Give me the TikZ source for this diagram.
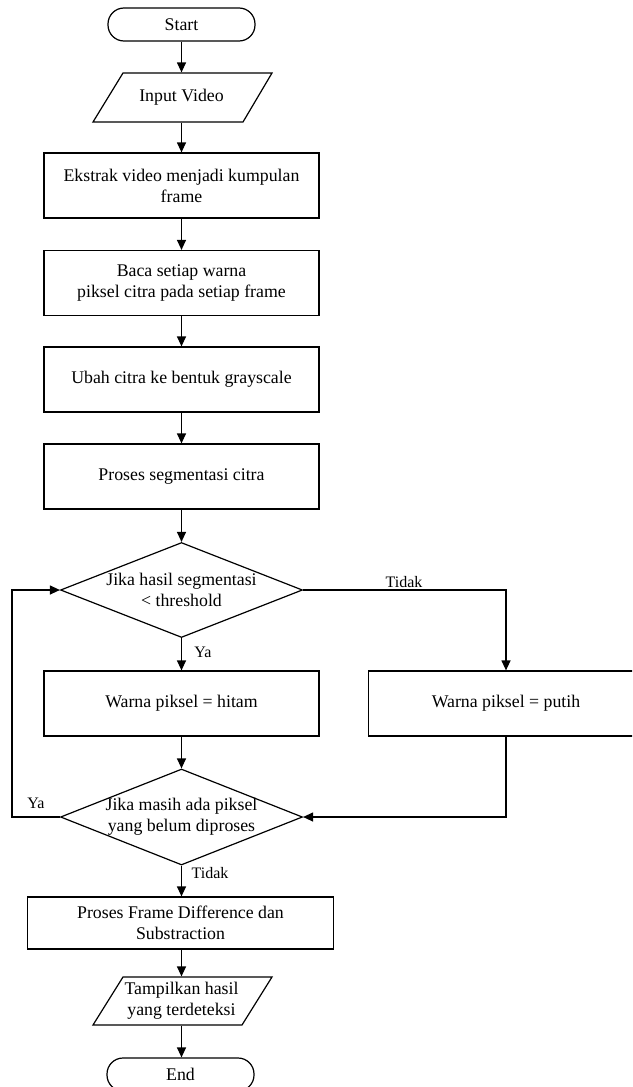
\documentclass[tikz,border=0pt]{standalone}
\usepackage{fontspec}
\setmainfont{Liberation Serif}
\usetikzlibrary{arrows.meta,shapes.geometric}
\begin{document}
\begin{tikzpicture}[x=1pt,y=-1pt,
  line width=1.2pt,
  base/.style={font=\fontsize{17.8}{21}\selectfont, align=center, inner sep=0pt},
  proc/.style={base, draw, rectangle, minimum width=275pt, minimum height=65pt},
  term/.style={base, draw, rectangle, rounded corners=16pt, minimum width=147pt, minimum height=33pt},
  io/.style={base, rectangle, minimum width=150pt, minimum height=49pt},
  dec/.style={draw, diamond, minimum width=242pt, minimum height=95pt, inner sep=0pt},
  lbl/.style={font=\fontsize{16}{19}\selectfont, inner sep=0pt},
  arr/.style={-{Triangle[length=10pt,width=9pt]}},
]
\useasboundingbox (0,0) rectangle (632,1087);
\clip (0,0) rectangle (632,1087);

\node[term] (start) at (181.5,24.5) {Start};
\node[io] (in) at (181.5,97.5) {Input Video};
\draw (123,73) -- (272,73) -- (243,122) -- (93,122) -- cycle;
\node[proc] (ek) at (181.5,185.5) {Ekstrak video menjadi kumpulan\\frame};
\node[proc] (baca) at (181.5,283) {Baca setiap warna\\piksel citra pada setiap frame};
\node[proc] (ubah) at (181.5,379.5) {Ubah citra ke bentuk grayscale};
\node[proc] (seg) at (181.5,476.5) {Proses segmentasi citra};
\node[dec] (d1) at (181.5,590) {};
\node[base] (d1t) at (181.5,590) {Jika hasil segmentasi\\{<} threshold};
\node[proc] (hitam) at (181.5,703.5) {Warna piksel = hitam};
\node[proc] (putih) at (506,703.5) {Warna piksel = putih};
\node[dec, minimum height=96pt] (d2) at (181.5,817) {};
\node[base] (d2t) at (181.5,817) {Jika masih ada piksel\\yang belum diproses};
\node[proc, minimum width=306pt, minimum height=52pt] (frame) at (180.5,923) {Proses Frame Difference dan\\Substraction};
\node[io, minimum height=48pt] (out) at (181.5,1001) {Tampilkan hasil\\yang terdeteksi};
\draw (123,977) -- (272,977) -- (242,1025) -- (93,1025) -- cycle;
\node[term] (end) at (180.5,1074.5) {End};

\node[lbl] (t1) at (404,582) {Tidak};
\node[lbl] (y1) at (203,652) {Ya};
\node[lbl] (y2) at (36,803) {Ya};
\node[lbl] (t2) at (210,873) {Tidak};

\draw[arr] (start.south) -- (start.south |- in.north);
\draw[arr] (in.south) -- (in.south |- ek.north);
\draw[arr] (ek.south) -- (ek.south |- baca.north);
\draw[arr] (baca.south) -- (baca.south |- ubah.north);
\draw[arr] (ubah.south) -- (ubah.south |- seg.north);
\draw[arr] (seg.south) -- (seg.south |- d1.north);
\draw[arr] (d1.south) -- (d1.south |- hitam.north);
\draw[arr] (d1.east) -- (d1.east -| putih.north) -- (putih.north);
\draw[arr] (hitam.south) -- (hitam.south |- d2.north);
\draw[arr] (putih.south) -- (putih.south |- d2.east) -- (d2.east);
\draw[arr] (d2.west) -- ++(-48,0) |- (d1.west);
\draw[arr] (d2.south) -- (d2.south |- frame.north);
\draw[arr] (d2.south |- frame.south) -- (d2.south |- out.north);
\draw[arr] (out.south) -- (out.south |- end.north);
\end{tikzpicture}
\end{document}
